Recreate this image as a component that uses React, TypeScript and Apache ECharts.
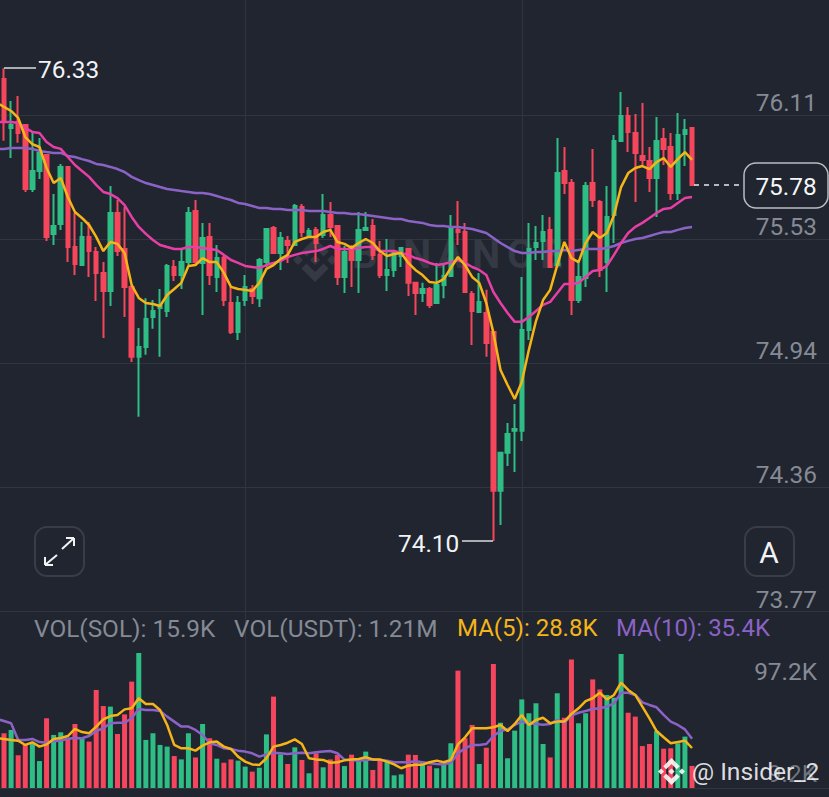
import React, { useEffect, useRef } from "react";
import * as echarts from "echarts";

const opens = [76.28,76.049,76.077,76.063,75.761,75.846,75.921,75.549,75.596,75.865,
75.487,75.402,75.535,75.464,75.365,75.28,75.648,75.478,75.299,74.969,
75.016,75.157,75.2,75.185,75.393,75.355,75.416,75.657,75.412,75.535,
75.346,75.435,75.223,75.086,75.237,75.289,75.246,75.416,75.577,75.459,
75.516,75.497,75.676,75.535,75.568,75.544,75.638,75.586,75.346,75.478,
75.426,75.568,75.586,75.45,75.355,75.379,75.445,75.478,75.318,75.27,
75.289,75.223,75.308,75.35,75.568,75.558,75.265,75.181,75.176,75.086,
74.337,74.516,74.62,74.62,75.096,75.487,75.516,75.568,75.402,75.846,
75.789,75.237,75.341,75.789,75.7,75.416,75.638,75.987,76.105,76.025,
75.917,75.893,75.813,75.997,75.959,75.742,76.02,76.049];
const closes = [76.077,76.063,76.025,75.761,75.846,75.931,75.535,75.586,75.865,75.487,
75.407,75.535,75.468,75.365,75.28,75.648,75.468,75.299,74.969,75.016,
75.148,75.185,75.209,75.398,75.355,75.416,75.648,75.416,75.53,75.355,
75.435,75.237,75.086,75.223,75.299,75.256,75.426,75.572,75.459,75.53,
75.497,75.681,75.558,75.563,75.506,75.638,75.582,75.346,75.464,75.426,
75.568,75.577,75.45,75.355,75.379,75.464,75.483,75.318,75.27,75.289,
75.214,75.308,75.35,75.582,75.558,75.275,75.185,75.228,75.034,74.337,
74.516,74.605,74.629,75.096,75.478,75.506,75.558,75.393,75.836,75.789,
75.237,75.346,75.775,75.709,75.379,75.629,75.987,76.105,76.03,75.931,
75.898,75.813,75.987,75.95,75.742,76.016,76.039,75.78];
const lows = [75.988,75.907,75.979,75.747,75.747,75.808,75.516,75.497,75.568,75.416,
75.355,75.398,75.346,75.232,75.058,75.209,75.445,75.157,74.945,74.686,
74.979,75.101,74.969,75.157,75.327,75.289,75.402,75.402,75.167,75.308,
75.275,75.209,75.077,75.049,75.209,75.218,75.204,75.393,75.454,75.379,
75.412,75.497,75.535,75.535,75.416,75.53,75.535,75.308,75.27,75.299,
75.27,75.568,75.426,75.341,75.28,75.346,75.393,75.256,75.167,75.228,
75.2,75.218,75.246,75.35,75.497,75.27,75.025,75.176,74.969,74.1,
74.176,74.454,74.426,74.572,75.049,75.426,75.426,75.388,75.393,75.737,
75.167,75.223,75.299,75.676,75.346,75.275,75.506,75.987,75.936,75.7,
75.874,75.747,75.629,75.874,75.709,75.709,75.869,75.78];
const highs = [76.33,76.176,76.2,76.068,76.03,76.001,75.926,75.737,75.879,75.869,
75.648,75.605,75.605,75.487,75.416,75.775,75.709,75.676,75.308,75.105,
75.246,75.237,75.289,75.407,75.426,75.473,75.676,75.709,75.6,75.6,
75.497,75.445,75.299,75.256,75.355,75.308,75.435,75.577,75.586,75.558,
75.539,75.69,75.69,75.577,75.582,75.737,75.7,75.591,75.492,75.497,
75.652,75.652,75.619,75.516,75.525,75.473,75.487,75.478,75.322,75.318,
75.299,75.412,75.412,75.638,75.704,75.6,75.28,75.365,75.285,75.091,
74.52,74.657,74.747,75.346,75.6,75.586,75.638,75.629,76.001,75.959,
75.808,75.426,75.794,75.95,75.709,75.775,76.016,76.218,76.148,76.115,
76.167,75.959,76.101,76.049,76.025,76.119,76.091,76.053];

// the lines start one candle before the first visible candle
const priceMaFast = [76.167,76.148,76.129,76.096,76.006,75.973,75.959,75.86,75.789,75.813,75.723,
75.652,75.624,75.591,75.535,75.468,75.511,75.502,75.459,75.308,75.247,
75.223,75.218,75.209,75.261,75.289,75.318,75.398,75.402,75.435,75.416,
75.416,75.365,75.299,75.289,75.285,75.28,75.318,75.384,75.402,75.431,
75.45,75.511,75.525,75.535,75.535,75.558,75.568,75.511,75.502,75.483,
75.506,75.525,75.506,75.468,75.445,75.454,75.459,75.412,75.379,75.355,
75.322,75.318,75.336,75.388,75.44,75.402,75.346,75.318,75.223,75.082,
74.907,74.836,74.77,74.85,75.002,75.138,75.237,75.285,75.402,75.511,
75.435,75.416,75.506,75.558,75.53,75.553,75.638,75.77,75.836,75.86,
75.869,75.855,75.888,75.907,75.865,75.902,75.935,75.898];
const priceMaMid = [76.077,76.077,76.077,76.072,76.049,76.03,76.025,75.983,75.959,75.95,75.912,
75.874,75.846,75.818,75.78,75.747,75.737,75.718,75.685,75.629,75.582,
75.549,75.52,75.497,75.487,75.478,75.478,75.487,75.487,75.483,75.478,
75.473,75.45,75.426,75.412,75.398,75.393,75.388,75.402,75.412,75.421,
75.44,75.45,75.459,75.464,75.468,75.478,75.492,75.478,75.478,75.478,
75.483,75.487,75.487,75.468,75.468,75.468,75.459,75.45,75.435,75.426,
75.412,75.402,75.407,75.416,75.426,75.412,75.393,75.379,75.355,75.275,
75.223,75.176,75.134,75.134,75.157,75.185,75.214,75.228,75.27,75.313,
75.313,75.318,75.346,75.374,75.379,75.398,75.45,75.506,75.553,75.582,
75.601,75.624,75.648,75.667,75.671,75.695,75.718,75.723];
const priceMaSlow = [75.95,75.95,75.954,75.954,75.954,75.95,75.94,75.935,75.931,75.931,75.917,
75.912,75.902,75.893,75.879,75.874,75.865,75.855,75.841,75.818,75.803,
75.789,75.78,75.77,75.761,75.756,75.751,75.747,75.742,75.742,75.737,
75.728,75.718,75.709,75.695,75.69,75.681,75.671,75.671,75.667,75.667,
75.662,75.662,75.662,75.657,75.657,75.657,75.652,75.648,75.648,75.643,
75.643,75.638,75.634,75.629,75.624,75.619,75.619,75.61,75.605,75.601,
75.591,75.586,75.586,75.582,75.582,75.577,75.572,75.563,75.553,75.53,
75.506,75.487,75.468,75.459,75.459,75.464,75.464,75.468,75.468,75.473,
75.468,75.473,75.478,75.478,75.478,75.483,75.492,75.506,75.516,75.525,
75.53,75.539,75.549,75.558,75.558,75.568,75.577,75.582];

const volumes = [39.4,41.8,23.5,31,32.2,19.4,50.2,38.2,40.1,35.8,
46.1,35.8,33.4,70.6,59,58.6,38.9,53,76.6,97.2,
34.6,39.4,31,29.8,23,20.6,39.4,22,46.1,35.8,
21.1,18.2,20.6,19.7,15.4,11.8,14.6,38.6,65.8,24.2,
17.3,29.3,20.2,10.6,25,14.9,20.6,23.8,15.8,24,
20.2,26.2,13,20.6,19,9.1,9.8,24,23.8,17.8,
16.1,14.2,16.6,32.2,84.5,35.8,45.4,17.3,29,89.3,
47,21.4,41.3,63.8,53.8,61,31.7,22,68.2,50.6,
92.6,46.6,53.8,78.2,71,67,65,96.5,54.2,51.4,
30.2,31.7,41,28.3,28.6,32.2,37,15.9];
const volMa5 = [35.8,35.3,34.6,34.1,31,32.9,29.8,31.4,35.3,36,37.4,
42.5,40.3,39.4,44.2,49.4,51.8,52.6,56.6,57.4,64.6,
60.5,60.5,56.2,45.4,31,28.6,28.6,26.9,30.5,32.9,
33.4,29.8,28.1,22.6,19,17,16.6,21.4,29.8,31,
32.6,35,31.7,21.4,20.6,20.2,18.2,18.5,19.9,20.6,
20.9,22.1,20.6,20.6,19,17,14.2,16.1,16.8,16.8,
18.5,19.7,18.5,20.2,31.4,36.5,43,43,43,43.7,
45.4,41,46.1,52.6,45.4,49,50.6,46.6,47.8,47.8,
53.3,57.4,62.6,64.6,68.6,63.8,67,75.8,70.6,67,
58.6,50.2,41,36.5,32.2,33.1,34.1,28.8];
const volMa10 = [49.7,48.2,46.6,34.6,34.6,35.3,33.1,32.6,33.8,34.1,35.5,
36,35.8,37.4,41,43,46.6,47,47,50.2,56.9,
56.2,56.2,55.4,51.4,47.8,44.2,44.2,41.8,38.2,32.2,
31,28.6,28.1,26.9,26.2,25,22.6,24.2,25.4,25,
24.5,25,25.4,25,25.7,26.2,26.6,25,20.4,20.2,
19.7,20.2,20.6,20.2,19.7,18.5,18.5,18.5,19.2,18.5,
17.8,17.3,17,18.2,25,28.6,31,31,31.7,37.4,
41,42.2,45.4,47.8,46.6,46.1,45.6,46.1,49,47,
52.1,54.2,55.4,56.9,57.4,58.6,61,68.6,68.6,67,
61.7,59.8,58.1,52.6,47.8,45.4,42.2,35.4];

const priceTicks = [73.77, 74.355, 74.94, 75.525, 76.11];
const priceTickLabels = ["73.77", "74.36", "74.94", "75.53", "76.11"];
const volTickLabels = ["97.2K", "9.2K"];
const PRICE_MIN = 73.77;
const PRICE_MAX = 76.6525;
const VOL_MAX = 127.44;
const LEAD = 1;
const TOTAL_BANDS = 118;
const GRID_LINE_BANDS = [34 + LEAD, 73 + LEAD];

const BG = "#20252f";
const GRID = "#30353f";
const GREEN = "#2ebd85";
const RED = "#f6465d";
const YELLOW = "#f5b518";
const PINK = "#e83fa6";
const PURPLE = "#8b63c6";
const GRAY = "#858a94";
const WATERMARK = "#343943";
const FONT = "Roboto";

const LOGO_D =
  "M38.73 53.2L63.3 28.63L87.89 53.22L102.19 38.92L63.3 0L24.42 38.9Z" +
  "M0 63.31L14.3 49L28.6 63.3L14.3 77.6Z" +
  "M38.73 73.41L63.3 97.98L87.89 73.39L102.2 87.68L63.3 126.61L24.42 87.72Z" +
  "M98 63.31L112.3 49L126.6 63.3L112.3 77.6Z" +
  "M77.8 63.3L63.3 48.8L48.9 63.2L63.3 77.7Z";

echarts.graphic.registerShape("binanceLogo", echarts.graphic.extendPath(LOGO_D as any, {} as any) as any);

const WATERMARK_LETTERS = ["B", "I", "N", "A", "N", "C", "E"];
const WATERMARK_X = [352, 386, 403, 437, 472, 507, 540];

export default function App() {
  const ref = useRef<HTMLDivElement>(null);
  useEffect(() => {
    document.body.style.margin = "0";
    document.body.style.background = BG;
    const chart = echarts.init(ref.current!, undefined, { renderer: "svg" });
    const categories = Array.from({ length: TOTAL_BANDS }, (_, i) => String(i - LEAD));
    const pad = (a: any[]) => [...Array(LEAD).fill("-"), ...a];
    const candleData = pad(opens.map((o, i) => [o, closes[i], lows[i], highs[i]]));
    const volData = pad(
      volumes.map((v, i) => ({ value: v, itemStyle: { color: closes[i] >= opens[i] ? GREEN : RED } }))
    );
    const bandPx = 7.093;
    const gridLeft = 4 - (LEAD + 0.5) * bandPx;
    const gridWidth = TOTAL_BANDS * bandPx;
    const xSplit = {
      show: true,
      alignWithLabel: true,
      interval: (idx: number) => GRID_LINE_BANDS.includes(idx),
      lineStyle: { color: GRID, width: 1 },
    };
    const label = (x: number, y: number, text: string, fill: string, size = 24.4, align = "left", z = 50) => ({
      type: "text", x, y, z,
      style: { text, fill, font: `${size}px ${FONT}`, textAlign: align, textVerticalAlign: "middle" },
    });
    const btn = (x: number) => ({
      type: "rect", z: 50,
      shape: { x, y: 527, width: 49, height: 49, r: 12 },
      style: { fill: "transparent", stroke: "#383d47", lineWidth: 2 },
    });
    const seg = (x1: number, y1: number, x2: number, y2: number, stroke = "#f2f3f5", lineWidth = 2, lineDash?: number[]) => ({
      type: "line", z: 50,
      shape: { x1, y1, x2, y2 },
      style: { stroke, lineWidth, lineDash },
    });
    chart.setOption({
      animation: false,
      backgroundColor: BG,
      grid: [
        { left: gridLeft, top: 0, width: gridWidth, height: 611, outerBoundsMode: "none" },
        { left: gridLeft, top: 611, width: gridWidth, height: 177, outerBoundsMode: "none" },
      ],
      xAxis: [0, 1].map((gridIndex) => ({
        type: "category",
        gridIndex,
        data: categories,
        axisLine: { show: gridIndex === 1, lineStyle: { color: GRID } },
        axisTick: { show: false },
        axisLabel: { show: false },
        splitLine: xSplit,
      })),
      yAxis: [
        {
          type: "value",
          gridIndex: 0,
          position: "right",
          min: PRICE_MIN,
          max: PRICE_MAX,
          axisLine: { show: false },
          axisTick: { show: false, customValues: priceTicks },
          splitLine: { show: true, lineStyle: { color: GRID, width: 1 } },
          axisLabel: {
            inside: true,
            customValues: priceTicks,
            margin: 13.3,
            color: GRAY,
            fontFamily: FONT,
            fontSize: 24.4,
            verticalAlign: "bottom",
            lineHeight: 24,
            showMinLabel: true,
            showMaxLabel: true,
            formatter: (v: number) => priceTickLabels[priceTicks.findIndex((t) => Math.abs(t - v) < 1e-6)] ?? "",
          },
        },
        { type: "value", gridIndex: 1, min: 0, max: VOL_MAX, show: false, splitLine: { show: false } },
      ],
      series: [
        {
          type: "candlestick", xAxisIndex: 0, yAxisIndex: 0, data: candleData, barWidth: 4,
          itemStyle: { color: GREEN, color0: RED, borderColor: GREEN, borderColor0: RED, borderWidth: 2 },
        },
        ...[[priceMaSlow, PURPLE], [priceMaMid, PINK], [priceMaFast, YELLOW]].map(([d, c]) => ({
          type: "line", xAxisIndex: 0, yAxisIndex: 0, data: d, showSymbol: false, silent: true,
          lineStyle: { color: c, width: 2.5 },
        })),
        { type: "bar", xAxisIndex: 1, yAxisIndex: 1, data: volData, barWidth: 5 },
        ...[[volMa10, PURPLE], [volMa5, YELLOW]].map(([d, c]) => ({
          type: "line", xAxisIndex: 1, yAxisIndex: 1, data: d, showSymbol: false, silent: true,
          lineStyle: { color: c, width: 2.5 },
        })),
      ],
      graphic: [
        // watermark
        { type: "binanceLogo", x: 293, y: 238, scaleX: 44 / 126.6, scaleY: 44 / 126.6, z: 1, style: { fill: WATERMARK } },
        ...WATERMARK_LETTERS.map((text, i) => ({
          type: "text", x: WATERMARK_X[i], y: 254, z: 1,
          style: { text, fill: WATERMARK, font: `bold 40px ${FONT}`, textVerticalAlign: "middle" },
        })),
        // high / low / last annotations
        label(38, 69, "76.33", "#f2f3f5"),
        seg(4, 68, 36, 68, "#d9dbdf", 1.5),
        label(398, 543, "74.10", "#f2f3f5"),
        seg(462, 541, 493, 541, "#d9dbdf", 1.5),
        seg(694, 185, 744, 185, "#e8e9ec", 1.5, [5, 5]),
        {
          type: "rect", z: 50,
          shape: { x: 744, y: 163, width: 84, height: 45, r: 12 },
          style: { fill: BG, stroke: "#b9bcc2", lineWidth: 1.5 },
        },
        label(786, 186, "75.78", "#f5f6f7", 24.4, "center"),
        // buttons
        btn(35),
        btn(745),
        label(769, 552, "A", "#f2f3f5", 30, "center"),
        seg(62, 549, 74, 538), seg(66, 538, 74, 538), seg(74, 538, 74, 546),
        seg(57, 555, 45, 565), seg(45, 557, 45, 565), seg(45, 565, 53, 565),
        // volume legend
        label(34, 628, "VOL(SOL): 15.9K", GRAY),
        label(234, 628, "VOL(USDT): 1.21M", GRAY),
        label(457, 628, "MA(5): 28.8K", YELLOW, 24),
        label(616, 628, "MA(10): 35.4K", PURPLE, 24),
        // volume axis labels
        label(817, 671, volTickLabels[0], GRAY, 24.4, "right"),
        label(817, 773, volTickLabels[1], "#6f747e", 24.4, "right"),
        // author overlay
        { type: "binanceLogo", x: 658, y: 758, scaleX: 27 / 126.6, scaleY: 27 / 126.6, z: 90, style: { fill: "rgba(255,255,255,0.88)" } },
        {
          type: "text", x: 692, y: 771, z: 90,
          style: { text: "@ Insider_2", fill: "rgba(255,255,255,0.85)", font: `24.6px ${FONT}`, textVerticalAlign: "middle" },
        },
      ],
    });
    return () => chart.dispose();
  }, []);
  return <div ref={ref} style={{ width: 829, height: 797 }} />;
}
